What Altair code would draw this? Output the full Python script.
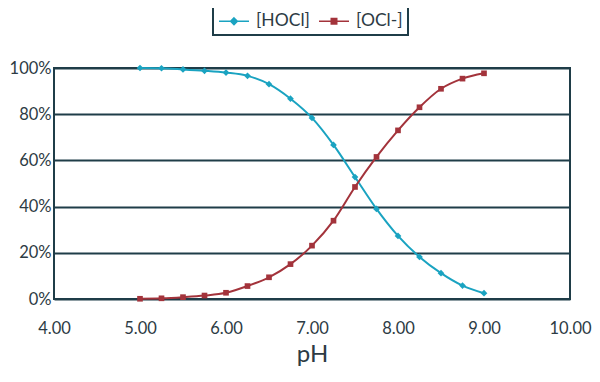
import altair as alt
import pandas as pd

ph = [5.00, 5.25, 5.50, 5.75, 6.00, 6.25, 6.50, 6.75, 7.00, 7.25, 7.50,
      7.75, 8.00, 8.25, 8.50, 8.75, 9.00]
hocl = [100, 99.9, 99.4, 98.8, 98.0, 96.6, 93.0, 86.7, 78.4, 66.7, 52.8,
        39.0, 27.3, 18.2, 11.2, 5.8, 2.5]
ocl = [0.1, 0.3, 0.8, 1.5, 2.7, 5.6, 9.4, 15.1, 23.1, 33.9, 48.5,
       61.5, 73.0, 83.0, 91.0, 95.4, 97.7]
series = ["[HOCl]", "[OCl-]"]
colors = ["#1aa3c1", "#a3333b"]
x_ticks = [4, 5, 6, 7, 8, 9, 10]
y_ticks = [0, 20, 40, 60, 80, 100]

rows = []
for p, a, b in zip(ph, hocl, ocl):
    rows.append({"pH": p, "value": a, "series": series[0]})
    rows.append({"pH": p, "value": b, "series": series[1]})
df = pd.DataFrame(rows)

GRID = "#1f3d48"
TEXT = "#2d3b44"

x = alt.X("pH:Q", scale=alt.Scale(domain=[4, 10], nice=False),
          axis=alt.Axis(values=x_ticks, format=".2f", grid=False, ticks=False,
                        domain=False, labelPadding=21, title="pH", labelFlush=False,
                        labelFontSize=16.5, labelColor=TEXT, labelFont="Lato",
                        titleFontSize=24, titleFontWeight="normal", titleFont="Lato",
                        titlePadding=6, titleColor=TEXT))
y = alt.Y("value:Q", scale=alt.Scale(domain=[0, 100], nice=False),
          axis=alt.Axis(values=y_ticks, labelExpr="datum.value + '%'",
                        labelFontSize=16.5, labelColor=TEXT, labelFont="Lato",
                        labelFlush=False,
                        grid=True, gridColor=GRID, gridWidth=2, ticks=False,
                        domain=False, labelPadding=3, title=None))

base = alt.Chart(df).encode(x=x, y=y)

layers = []
shapes = ["diamond", "square"]
sizes = [45, 32]
for s, c, sh, sz in zip(series, colors, shapes, sizes):
    sub = base.transform_filter(alt.datum.series == s)
    layers.append(sub.mark_line(color=c, strokeWidth=2, interpolate="monotone"))
    layers.append(sub.mark_point(color=c, filled=True, shape=sh, size=sz, opacity=1))

legend_paths = [
    "M-1,0L1,0M0,-0.22L0.22,0L0,0.22L-0.22,0Z",
    "M-1,0L1,0M-0.18,-0.18L0.18,-0.18L0.18,0.18L-0.18,0.18Z",
]
legend = alt.Legend(orient="none", legendX=159, legendY=-68, direction="horizontal",
                    title=None, strokeColor=GRID, padding=5, symbolSize=900,
                    symbolStrokeWidth=1.6, symbolOpacity=1, labelFontSize=17.5,
                    labelFont="Lato", labelColor=TEXT, labelOffset=6, columnPadding=5)
legend_layer = base.mark_point(filled=True, opacity=0, strokeWidth=1.6).encode(
    color=alt.Color("series:N", scale=alt.Scale(domain=series, range=colors), legend=legend),
    stroke=alt.Stroke("series:N", scale=alt.Scale(domain=series, range=colors), legend=legend),
    shape=alt.Shape("series:N", scale=alt.Scale(domain=series, range=legend_paths), legend=legend),
)
layers.append(legend_layer)

chart = alt.layer(*layers).properties(
    width=516, height=231,
    autosize=alt.AutoSizeParams(type="none"),
    padding={"left": 46, "top": 60, "right": 22, "bottom": 75},
).configure(
    font="Lato", background="white",
    view=alt.ViewConfig(stroke=GRID, strokeWidth=2),
    legend=alt.LegendConfig(strokeWidth=2, labelFont="Lato"),
)

chart.save("out.html", embed_options={"renderer": "svg", "actions": False})
